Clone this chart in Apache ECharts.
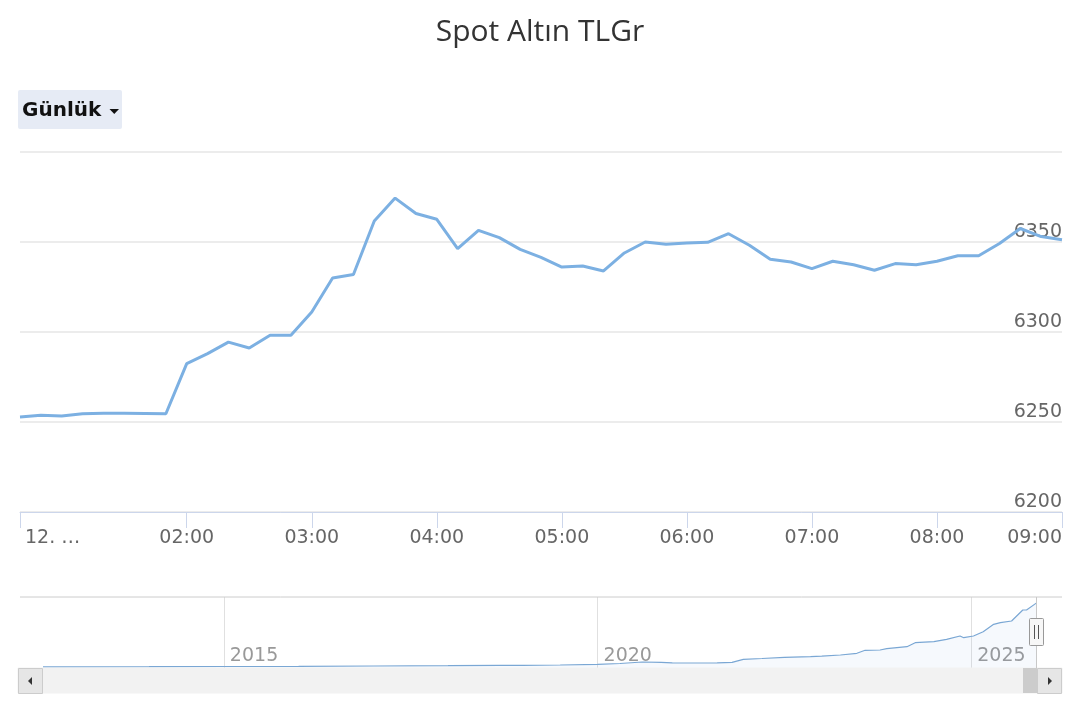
<!DOCTYPE html>
<html>
<head>
<meta charset="utf-8">
<script src="https://cdn.jsdelivr.net/npm/echarts@6/dist/echarts.min.js"></script>
<style>
html,body{margin:0;padding:0;background:#fff;}
#chart{width:1080px;height:720px;}
</style>
</head>
<body>
<div id="chart"></div>
<script>
// ---- DATA ----
const titleText = 'Spot Altın TLGr';
const rangeButton = 'Günlük';

const times = ['00:40','00:50','01:00','01:10','01:20','01:30','01:40','01:50',
  '02:00','02:10','02:20','02:30','02:40','02:50',
  '03:00','03:10','03:20','03:30','03:40','03:50',
  '04:00','04:10','04:20','04:30','04:40','04:50',
  '05:00','05:10','05:20','05:30','05:40','05:50',
  '06:00','06:10','06:20','06:30','06:40','06:50',
  '07:00','07:10','07:20','07:30','07:40','07:50',
  '08:00','08:10','08:20','08:30','08:40','08:50','09:00'];
const prices = [6252.8,6253.7,6253.3,6254.6,6254.8,6254.8,6254.7,6254.6,
  6282.4,6288.0,6294.4,6291.1,6298.2,6298.2,
  6311.1,6330.0,6331.9,6361.7,6374.4,6365.8,
  6362.6,6346.3,6356.5,6352.4,6345.9,6341.5,
  6336.1,6336.7,6333.9,6343.9,6350.0,6348.7,
  6349.4,6349.8,6354.6,6348.2,6340.4,6338.9,
  6335.2,6339.3,6337.4,6334.3,6338.0,6337.4,
  6339.3,6342.4,6342.4,6349.2,6357.5,6353.0,6351.2];

const xTickTimes = ['00:40','02:00','03:00','04:00','05:00','06:00','07:00','08:00','09:00'];
const xTickLabels = ['12. …','02:00','03:00','04:00','05:00','06:00','07:00','08:00','09:00'];
const yMin = 6200, yMax = 6400, yStep = 50;

// navigator (long history)
const navYears = [2012.58,2014.0,2015.0,2016.0,2017.0,2018.0,2018.7,2019.0,2019.5,
  2020.0,2020.3,2020.6,2020.85,2021.0,2021.3,2021.6,2021.8,2021.95,
  2022.2,2022.5,2022.85,2023.0,2023.25,2023.47,2023.58,2023.78,2023.87,
  2024.14,2024.25,2024.5,2024.67,2024.85,2024.9,2025.03,2025.16,2025.3,
  2025.39,2025.54,2025.69,2025.74,2025.87];
const navValues = [117,127,147,166,196,225,264,255,294,
  362,440,587,558,509,490,509,558,852,
  930,1048,1106,1155,1273,1439,1733,1762,1890,
  2085,2477,2575,2810,3133,2966,3133,3554,4278,
  4435,4601,5678,5678,6351];
const navYearTicks = [2015, 2020, 2025];
const navStart = 2012.58, navEnd = 2025.88;

// ---- BUILD ----
const toMin = t => { const p = t.split(':'); return (+p[0]) * 60 + (+p[1]); };
const mainData = times.map((t, i) => [toMin(t), prices[i]]);
const tickVals = xTickTimes.map(toMin);
const labelMap = {};
tickVals.forEach((v, i) => labelMap[v] = xTickLabels[i]);
const navData = navYears.map((y, i) => [y, navValues[i]]);

const FONT = 'DejaVu Sans';
const lineColor = '#7cb0e2';

const chart = echarts.init(document.getElementById('chart'), null, {renderer: 'canvas'});

function staticGraphics(hx) {
  const g = [
    // range selector button
    {type: 'rect', shape: {x: 18, y: 90, width: 104, height: 39, r: 2}, style: {fill: '#e6ebf5'}, z: 10},
    {type: 'text', x: 22, y: 111, style: {text: rangeButton, font: 'bold 20px "DejaVu Sans"', fill: '#111', verticalAlign: 'middle'}, z: 11},
    {type: 'polygon', shape: {points: [[109.5, 109], [119, 109], [114.25, 114]]}, style: {fill: '#111'}, z: 11},
    // navigator top outline
    {type: 'line', shape: {x1: 20, y1: 597, x2: 1062, y2: 597}, style: {stroke: '#cccccc', lineWidth: 1}, z: 10},
    // scrollbar track
    {type: 'rect', shape: {x: 18, y: 668, width: 1044, height: 25}, style: {fill: '#f2f2f2', stroke: '#f2f2f2'}, z: 10},
    // left button
    {type: 'rect', shape: {x: 18.5, y: 668.5, width: 24, height: 25}, style: {fill: '#e6e6e6', stroke: '#cccccc', lineWidth: 1}, z: 11},
    {type: 'polygon', shape: {points: [[32, 677], [32, 685], [28, 681]]}, style: {fill: '#333'}, z: 12},
    // right button
    {type: 'rect', shape: {x: 1037.5, y: 668.5, width: 24, height: 25}, style: {fill: '#e6e6e6', stroke: '#cccccc', lineWidth: 1}, z: 11},
    {type: 'polygon', shape: {points: [[1048, 677], [1048, 685], [1052, 681]]}, style: {fill: '#333'}, z: 12}
  ];
  if (hx != null) {
    g.push(
      // scrollbar thumb
      {type: 'rect', shape: {x: hx - 13, y: 668, width: 14, height: 25}, style: {fill: '#cccccc'}, z: 11},
      // range edge outline
      {type: 'line', shape: {x1: hx + 0.5, y1: 597, x2: hx + 0.5, y2: 668}, style: {stroke: '#c8c8c8', lineWidth: 1}, z: 12},
      // handle
      {type: 'rect', shape: {x: hx - 6.5, y: 618.5, width: 14, height: 27, r: 1}, style: {fill: '#f7f7f7', stroke: '#999999', lineWidth: 1}, z: 13},
      {type: 'line', shape: {x1: hx - 1.5, y1: 625, x2: hx - 1.5, y2: 639}, style: {stroke: '#555', lineWidth: 1}, z: 14},
      {type: 'line', shape: {x1: hx + 2.5, y1: 625, x2: hx + 2.5, y2: 639}, style: {stroke: '#555', lineWidth: 1}, z: 14}
    );
  }
  return g;
}

const option = {
  animation: false,
  backgroundColor: '#ffffff',
  title: {
    text: titleText, left: 'center', top: 12,
    textStyle: {fontFamily: 'Open Sans', fontSize: 30, fontWeight: 'normal', color: '#333333'}
  },
  grid: [
    {left: 20, right: 18, top: 152, height: 360},
    {left: 43, right: 43, top: 597, height: 71}
  ],
  xAxis: [
    {
      type: 'value', gridIndex: 0, min: toMin(times[0]), max: toMin(times[times.length - 1]),
      axisLine: {show: true, lineStyle: {color: '#ccd6eb', width: 1}},
      axisTick: {show: true, length: 16, customValues: tickVals, lineStyle: {color: '#ccd6eb', width: 1}},
      axisLabel: {
        customValues: tickVals, margin: 17, fontSize: 19, fontFamily: FONT, color: '#666666',
        alignMinLabel: 'left', alignMaxLabel: 'right', showMinLabel: true, showMaxLabel: true, hideOverlap: false,
        formatter: v => { const s = labelMap[Math.round(v)] || ''; return v === tickVals[0] ? '{a|' + s + '}' : s; },
        rich: {a: {padding: [0, 0, 0, 5], fontSize: 19, fontFamily: FONT, color: '#666666'}}
      },
      splitLine: {show: false}
    },
    {
      type: 'value', gridIndex: 1, min: navStart, max: navEnd,
      axisLine: {show: false},
      axisTick: {show: true, inside: true, length: 71, customValues: navYearTicks, lineStyle: {color: '#e0e0e0', width: 1}},
      axisLabel: {
        customValues: navYearTicks, inside: true, margin: 2, align: 'left', verticalAlign: 'bottom',
        padding: [0, 0, 0, 6], fontSize: 19, fontFamily: FONT, color: '#999999',
        formatter: v => String(Math.round(v))
      },
      splitLine: {show: false}
    }
  ],
  yAxis: [
    {
      type: 'value', gridIndex: 0, position: 'right', min: yMin, max: yMax, interval: yStep,
      axisLine: {show: false}, axisTick: {show: false},
      axisLabel: {inside: true, margin: 0, verticalAlign: 'bottom', showMaxLabel: false,
        lineHeight: 20, fontSize: 19, fontFamily: FONT, color: '#666666',
        formatter: v => String(Math.round(v))},
      splitLine: {show: true, lineStyle: {color: '#e6e6e6', width: 1.5}}
    },
    {
      type: 'value', gridIndex: 1, min: 0, max: 6950, show: false,
      splitLine: {show: false}
    }
  ],
  series: [
    {
      type: 'line', xAxisIndex: 0, yAxisIndex: 0, data: mainData, showSymbol: false,
      lineStyle: {color: lineColor, width: 3}, itemStyle: {color: lineColor}, z: 5
    },
    {
      type: 'line', xAxisIndex: 1, yAxisIndex: 1, data: navData, showSymbol: false,
      lineStyle: {color: '#7aa7d4', width: 1.2}, itemStyle: {color: '#7aa7d4'},
      areaStyle: {color: 'rgba(124,176,226,0.10)'}, z: 5
    }
  ],
  graphic: staticGraphics(null)
};

chart.setOption(option);
const endPx = chart.convertToPixel({xAxisIndex: 1, yAxisIndex: 1}, navData[navData.length - 1]);
chart.setOption({graphic: staticGraphics(Math.round(endPx[0]))}, {replaceMerge: ['graphic']});
</script>
</body>
</html>
